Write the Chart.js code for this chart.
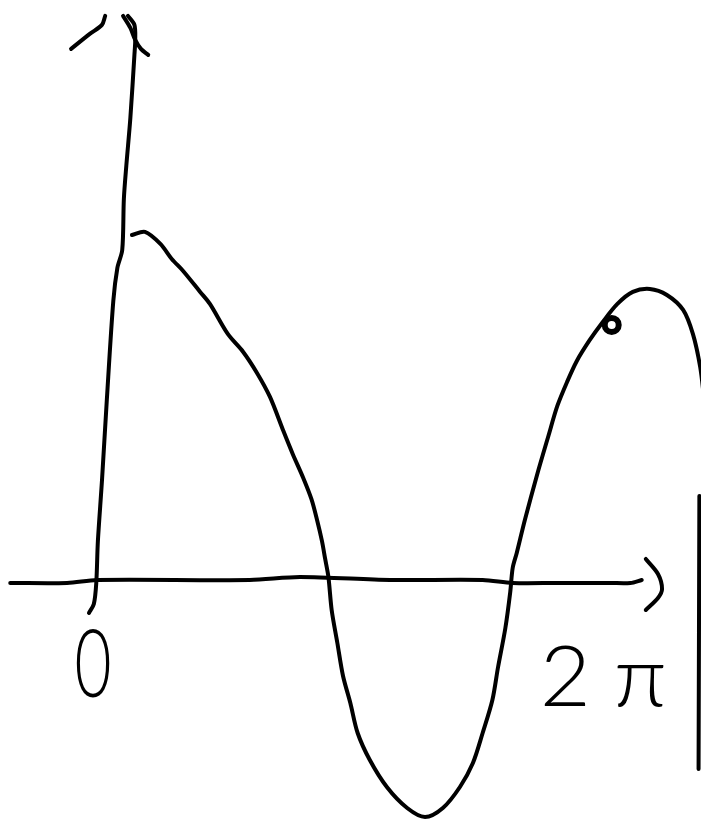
<!DOCTYPE html>
<html>
<head>
<meta charset="utf-8">
<script src="https://cdn.jsdelivr.net/npm/chart.js@4"></script>
<style>
  html, body { margin: 0; padding: 0; background: #fff; }
  #wrap { width: 701px; height: 820px; }
</style>
</head>
<body>
<div id="wrap"><canvas id="grafico" width="701" height="820"></canvas></div>
<script>
// curve: x in radians, y in amplitude units
const curveX = [0.48, 0.64, 0.83, 0.97, 1.11, 1.32, 1.44, 1.66, 1.85, 2.02, 2.18, 2.34, 2.46, 2.59, 2.69, 2.76, 2.82, 2.86, 2.90, 2.94,
  3.01, 3.08, 3.17, 3.26, 3.41, 3.62, 3.87, 4.09, 4.31, 4.52, 4.68, 4.80, 4.92, 4.99, 5.08, 5.14, 5.17, 5.22, 5.32, 5.47,
  5.61, 5.72, 5.84, 5.96, 6.12, 6.28, 6.46, 6.65, 6.86, 7.07, 7.27, 7.39, 7.48, 7.53];
const curveY = [1.15, 1.16, 1.12, 1.07, 1.03, 0.96, 0.92, 0.82, 0.76, 0.69, 0.61, 0.50, 0.42, 0.34, 0.27, 0.20, 0.13, 0.07, 0.01, -0.10,
  -0.21, -0.32, -0.41, -0.51, -0.60, -0.69, -0.76, -0.79, -0.76, -0.69, -0.61, -0.51, -0.40, -0.29, -0.16, -0.04, 0.04, 0.09, 0.20, 0.35,
  0.48, 0.58, 0.66, 0.73, 0.80, 0.86, 0.92, 0.96, 0.97, 0.95, 0.90, 0.82, 0.71, 0.60];

// hand drawn axes
const eixoYX = [0.43, 0.51, 0.52, 0.51, 0.46, 0.41, 0.38, 0.36, 0.30, 0.25, 0.17, 0.11, 0.06, 0.04, 0.01, -0.05];
const eixoYY = [1.88, 1.85, 1.80, 1.75, 1.54, 1.38, 1.27, 1.10, 1.04, 0.93, 0.60, 0.33, 0.13, -0.01, -0.08, -0.11];
const setaYEsqX = [-0.27, -0.04, 0.11, 0.15];
const setaYEsqY = [1.77, 1.82, 1.85, 1.88];
const setaYDirX = [0.37, 0.46, 0.52, 0.59, 0.68];
const setaYDirY = [1.88, 1.84, 1.80, 1.77, 1.75];
const eixoXX = [-1.02, -0.32, 0.05, 1.93, 2.55, 3.66, 4.80, 5.17, 5.72, 6.37, 6.62, 6.76];
const eixoXY = [-0.01, -0.01, 0.00, 0.00, 0.01, 0.00, 0.00, -0.01, -0.01, -0.01, -0.01, 0.00];
const setaXX = [6.81, 6.96, 7.01, 6.96, 6.81];
const setaXY = [0.07, 0.02, -0.03, -0.06, -0.10];
const bordaX = [7.47, 7.46];
const bordaY = [0.28, -0.63];

// marked point on the curve
const pontoX = [6.39];
const pontoY = [0.85];

// x axis labels
const ticksX = [0, 2 * Math.PI];
const ticksTexto = ['0', '2π'];
const ticksAltura = [-0.29, -0.33];

const pts = (xs, ys) => xs.map((x, i) => ({ x: x, y: ys[i] }));

const traco = (xs, ys) => ({
  data: pts(xs, ys),
  showLine: true,
  borderColor: '#000',
  borderWidth: 4,
  borderCapStyle: 'round',
  borderJoinStyle: 'round',
  pointRadius: 0,
  tension: 0.3,
  fill: false
});

const rotulos = {
  id: 'rotulos',
  afterDatasetsDraw(chart) {
    const c = chart.ctx;
    const sx = chart.scales.x, sy = chart.scales.y;
    c.save();
    c.fillStyle = '#000';
    c.textAlign = 'center';
    c.textBaseline = 'middle';
    ticksX.forEach((v, i) => {
      const px = sx.getPixelForValue(v);
      const py = sy.getPixelForValue(ticksAltura[i]);
      c.save();
      c.translate(px, py);
      if (i === 0) {
        c.scale(0.68, 1);
        c.font = '300 94px Lato';
      } else {
        c.scale(1.05, 1);
        c.font = '300 84px Lato';
        c.letterSpacing = '22px';
        c.translate(11, 0);
      }
      c.fillText(ticksTexto[i], 0, 0);
      c.restore();
    });
    c.restore();
  }
};

const ctx = document.getElementById('grafico').getContext('2d');

new Chart(ctx, {
  type: 'scatter',
  data: {
    datasets: [
      traco(curveX, curveY),
      traco(eixoYX, eixoYY),
      traco(setaYEsqX, setaYEsqY),
      traco(setaYDirX, setaYDirY),
      traco(eixoXX, eixoXY),
      traco(setaXX, setaXY),
      traco(bordaX, bordaY),
      {
        data: pts(pontoX, pontoY),
        pointStyle: 'circle',
        pointRadius: 7,
        pointBorderWidth: 6,
        pointBorderColor: '#000',
        pointBackgroundColor: '#fff'
      }
    ]
  },
  options: {
    responsive: false,
    animation: false,
    layout: { padding: 0, autoPadding: false },
    plugins: {
      legend: { display: false },
      tooltip: { enabled: false }
    },
    scales: {
      x: { type: 'linear', min: -1.146, max: 7.49, display: false },
      y: { type: 'linear', min: -0.8, max: 1.933, display: false }
    }
  },
  plugins: [rotulos]
});
</script>
</body>
</html>
